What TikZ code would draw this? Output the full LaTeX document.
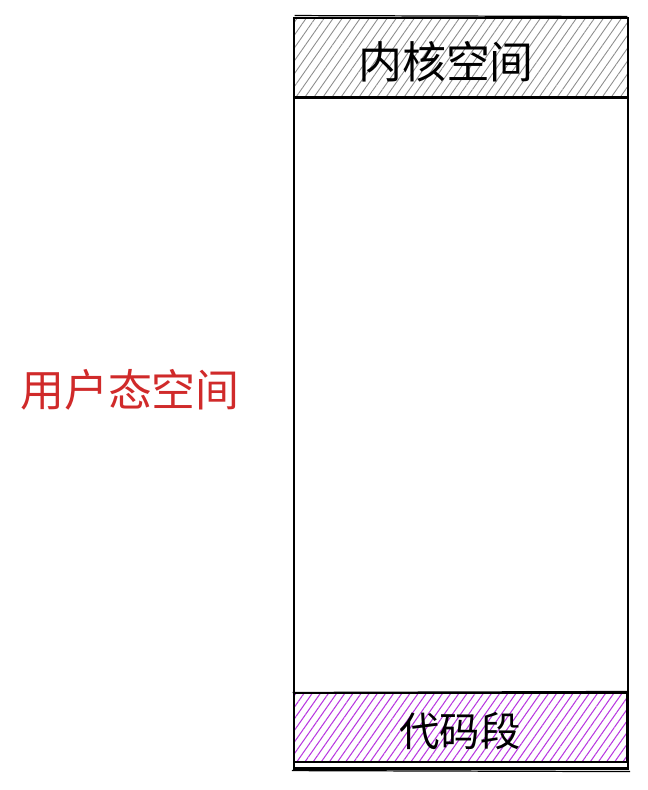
\documentclass[tikz,border=0pt]{standalone}
\usepackage{fontspec}
\setmainfont{Noto Sans CJK SC}
\usetikzlibrary{patterns.meta}
\definecolor{userred}{HTML}{D02A2A}
\definecolor{codepurple}{HTML}{B838E0}
\tikzstyle{region}=[draw=black,
                    line width=1.3pt,
                    inner sep=0pt]
\tikzstyle{kernel}=[region,
                    pattern={Lines[angle=55,distance=4.2pt,line width=0.5pt]},
                    pattern color=gray!90]
\tikzstyle{code}=[region,
                  pattern={Lines[angle=55,distance=3.8pt,line width=0.6pt]},
                  pattern color=codepurple]

\begin{document}
\begin{tikzpicture}[x=0.02cm,y=-0.02cm]
    \useasboundingbox (0,0) rectangle (647,790);
    \node[region, minimum width=6.68cm, minimum height=13.42cm] (user) at (461,433) {};
    \node[kernel, minimum width=6.68cm, minimum height=1.58cm] (kernel) at (461,57.5) {};
    \node[code, minimum width=6.66cm, minimum height=1.38cm] (codeseg) at (460.5,727.5) {};
    % sketchy second strokes
    \draw[line width=0.7pt] ([shift={(-1,1)}]user.south west) -- ([shift={(1,2)}]user.south east);
    \draw[line width=0.7pt] ([shift={(1,-2)}]kernel.north west) -- ([shift={(-1,-1)}]kernel.north east);
    \draw[line width=0.7pt] ([shift={(-1,0)}]codeseg.north west) -- ([shift={(1,-1)}]codeseg.north east);
    \node[font=\fontsize{25}{25}\selectfont] (kerneltext) at (446,62) {内核空间};
    \node[font=\fontsize{23}{23}\selectfont] (codetext) at (460,731) {代码段};
    \node[font=\fontsize{25}{25}\selectfont, text=userred] (usertext) at (130,390) {用户态空间};
\end{tikzpicture}
\end{document}
